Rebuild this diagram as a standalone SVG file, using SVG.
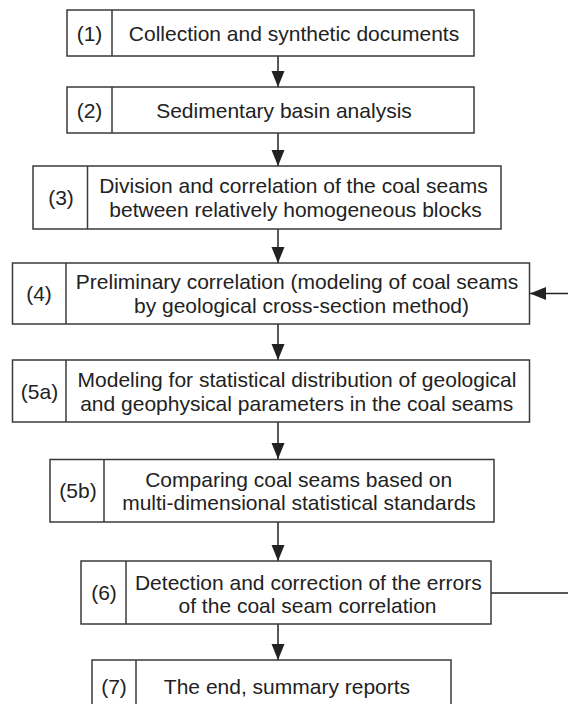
<svg xmlns="http://www.w3.org/2000/svg" width="568" height="704" viewBox="0 0 568 704">
<style>
.box{fill:#fff;stroke:#3a3a3a;stroke-width:1.5}
.div{stroke:#3a3a3a;stroke-width:1.5}
.t{font-family:"Liberation Sans",Arial,sans-serif;font-size:21px;fill:#222;text-anchor:middle}
.c{stroke:#222;stroke-width:1.5;fill:none}
</style>
<defs>
<marker id="ah" markerUnits="userSpaceOnUse" markerWidth="17" markerHeight="14" refX="16" refY="6.5" orient="auto">
<path d="M0,0 L16,6.5 L0,13 z" fill="#222"/>
</marker>
</defs>
<rect width="568" height="704" fill="#fff"/>
<g id="connectors">
<line class="c" x1="278" y1="56" x2="278" y2="87" marker-end="url(#ah)"/>
<line class="c" x1="278" y1="133" x2="278" y2="166" marker-end="url(#ah)"/>
<line class="c" x1="278" y1="229" x2="278" y2="263" marker-end="url(#ah)"/>
<line class="c" x1="278" y1="324" x2="278" y2="360" marker-end="url(#ah)"/>
<line class="c" x1="278" y1="422" x2="278" y2="459" marker-end="url(#ah)"/>
<line class="c" x1="278" y1="522" x2="278" y2="561" marker-end="url(#ah)"/>
<line class="c" x1="278" y1="624" x2="278" y2="660" marker-end="url(#ah)"/>
<line class="c" x1="491" y1="593" x2="568" y2="593"/>
<line class="c" x1="568" y1="293.5" x2="530" y2="293.5" marker-end="url(#ah)"/>
</g>
<g id="n1">
<rect class="box" x="67" y="10" width="407" height="46"/>
<line class="div" x1="112" y1="10" x2="112" y2="56"/>
<text class="t" x="89.5" y="40.5">(1)</text>
<text class="t" x="294" y="40.5">Collection and synthetic documents</text>
</g>
<g id="n2">
<rect class="box" x="67" y="87" width="407" height="46"/>
<line class="div" x1="112" y1="87" x2="112" y2="133"/>
<text class="t" x="89.5" y="117.5">(2)</text>
<text class="t" x="284" y="117.5">Sedimentary basin analysis</text>
</g>
<g id="n3">
<rect class="box" x="33" y="166" width="468" height="63"/>
<line class="div" x1="87.5" y1="166" x2="87.5" y2="229"/>
<text class="t" x="61" y="205">(3)</text>
<text class="t" x="293.5" y="193">Division and correlation of the coal seams</text>
<text class="t" x="295.5" y="217">between relatively homogeneous blocks</text>
</g>
<g id="n4">
<rect class="box" x="12.5" y="263" width="517" height="61"/>
<line class="div" x1="66" y1="263" x2="66" y2="324"/>
<text class="t" x="39" y="301">(4)</text>
<text class="t" x="297" y="289">Preliminary correlation (modeling of coal seams</text>
<text class="t" x="301.5" y="312.5">by geological cross-section method)</text>
</g>
<g id="n5a">
<rect class="box" x="12.5" y="360" width="517" height="62"/>
<line class="div" x1="66" y1="360" x2="66" y2="422"/>
<text class="t" x="39.5" y="398.5">(5a)</text>
<text class="t" x="297" y="386.5">Modeling for statistical distribution of geological</text>
<text class="t" x="296.7" y="410.5">and geophysical parameters in the coal seams</text>
</g>
<g id="n5b">
<rect class="box" x="50" y="459.5" width="444" height="62.5"/>
<line class="div" x1="104" y1="459.5" x2="104" y2="522"/>
<text class="t" x="78" y="498">(5b)</text>
<text class="t" x="298.7" y="486.5">Comparing coal seams based on</text>
<text class="t" x="299" y="509.5">multi-dimensional statistical standards</text>
</g>
<g id="n6">
<rect class="box" x="81" y="561" width="410" height="63"/>
<line class="div" x1="126" y1="561" x2="126" y2="624"/>
<text class="t" x="104" y="600">(6)</text>
<text class="t" x="308.3" y="589.5">Detection and correction of the errors</text>
<text class="t" x="307.5" y="613">of the coal seam correlation</text>
</g>
<g id="n7">
<rect class="box" x="92" y="660" width="359" height="54"/>
<line class="div" x1="136" y1="660" x2="136" y2="714"/>
<text class="t" x="114" y="693.5">(7)</text>
<text class="t" x="287" y="693.5">The end, summary reports</text>
</g>
</svg>
